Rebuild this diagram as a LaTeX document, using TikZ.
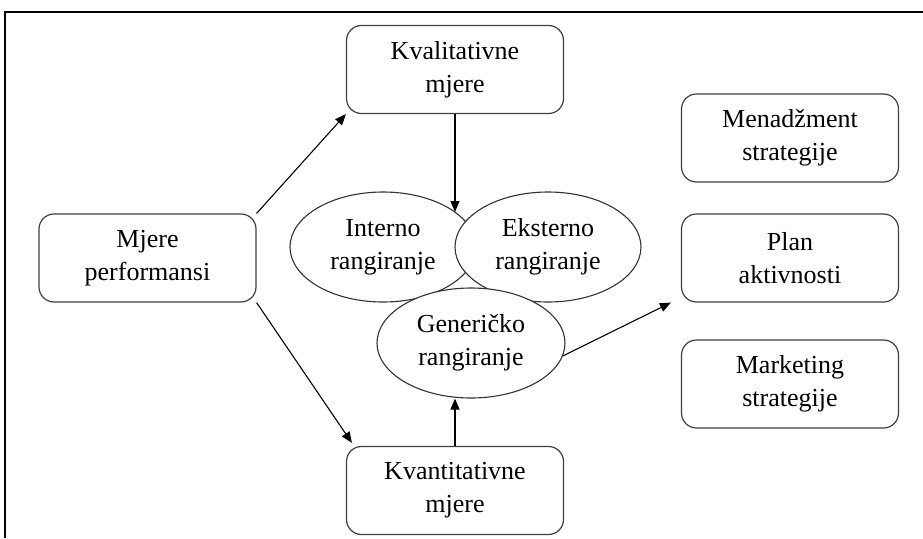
\documentclass[tikz,border=0pt]{standalone}
\usepackage{fontspec}
\setmainfont{Liberation Serif}
\usetikzlibrary{arrows.meta,shapes.geometric}

\begin{document}
\begin{tikzpicture}[x=1pt,y=-1pt,
  font=\fontsize{26}{33}\selectfont,
  box/.style={draw=black!75,line width=1.2pt,rounded corners=15pt,fill=white,
    minimum width=217pt,minimum height=88pt,align=center,inner sep=0pt},
  oval/.style={ellipse,draw=black!80,line width=1.1pt,fill=white,
    minimum width=186pt,minimum height=110pt,align=center,inner sep=0pt},
  link/.style={line width=1.1pt,-{Triangle[length=11pt,width=9pt]}}]
  \useasboundingbox (0,0) rectangle (923,538);

  % Open frame (left and top edge only)
  \draw[line width=1.2pt] (5,538) -- (5,12) -- (923,12);

  % Source box
  \node[box] (mjere) at (147.5,258) {Mjere\\performansi};

  % Two kinds of measures
  \node[box] (kval) at (455,69.5) {Kvalitativne\\mjere};
  \node[box] (kvant) at (455,490.5) {Kvantitativne\\mjere};

  % Ranking ovals, later ones lie on top
  \node[oval] (interno) at (383,247) {Interno\\rangiranje};
  \node[oval] (eksterno) at (548,247) {Eksterno\\rangiranje};
  \node[oval,minimum width=188pt] (gen) at (471,343) {Generičko\\rangiranje};

  % Outcomes
  \node[box] (menadz) at (790,138) {Menadžment\\strategije};
  \node[box] (plan) at (790,258) {Plan\\aktivnosti};
  \node[box] (market) at (790,384) {Marketing\\strategije};

  % Connectors
  \coordinate (kvalend) at (455,212);
  \draw[link] (mjere.north east) -- (kval.south west);
  \draw[link] (mjere.south east) -- ([xshift=6pt,yshift=3pt]kvant.north west);
  \draw[link] (kval.south) -- (kvalend);
  \draw[link] (kvant.north) -- (kvant.north |- gen.south);
  \draw[link] (gen.-8) -- ([xshift=-10pt]plan.south west);
\end{tikzpicture}
\end{document}
